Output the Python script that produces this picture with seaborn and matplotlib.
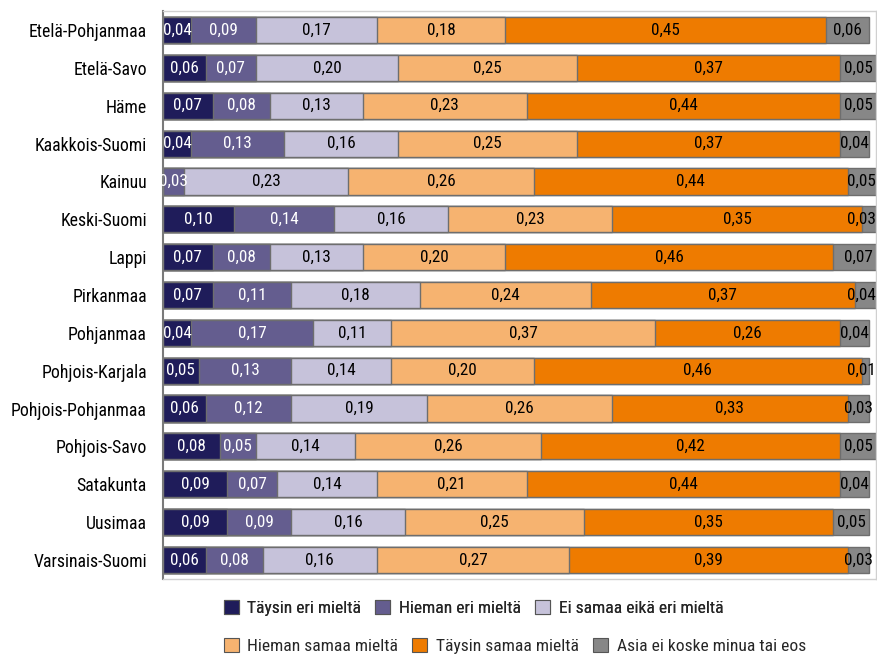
import matplotlib
matplotlib.use("Agg")
import matplotlib.pyplot as plt
from matplotlib.patches import Patch
from matplotlib import font_manager
import numpy as np
import pandas as pd
import seaborn as sns

regions = [
    "Etelä-Pohjanmaa", "Etelä-Savo", "Häme", "Kaakkois-Suomi", "Kainuu",
    "Keski-Suomi", "Lappi", "Pirkanmaa", "Pohjanmaa", "Pohjois-Karjala",
    "Pohjois-Pohjanmaa", "Pohjois-Savo", "Satakunta", "Uusimaa", "Varsinais-Suomi",
]
categories = [
    "Täysin eri mieltä", "Hieman eri mieltä", "Ei samaa eikä eri mieltä",
    "Hieman samaa mieltä", "Täysin samaa mieltä", "Asia ei koske minua tai eos",
]
taysin_eri = [0.04, 0.06, 0.07, 0.04, 0.00, 0.10, 0.07, 0.07, 0.04, 0.05, 0.06, 0.08, 0.09, 0.09, 0.06]
hieman_eri = [0.09, 0.07, 0.08, 0.13, 0.03, 0.14, 0.08, 0.11, 0.17, 0.13, 0.12, 0.05, 0.07, 0.09, 0.08]
ei_samaa = [0.17, 0.20, 0.13, 0.16, 0.23, 0.16, 0.13, 0.18, 0.11, 0.14, 0.19, 0.14, 0.14, 0.16, 0.16]
hieman_samaa = [0.18, 0.25, 0.23, 0.25, 0.26, 0.23, 0.20, 0.24, 0.37, 0.20, 0.26, 0.26, 0.21, 0.25, 0.27]
taysin_samaa = [0.45, 0.37, 0.44, 0.37, 0.44, 0.35, 0.46, 0.37, 0.26, 0.46, 0.33, 0.42, 0.44, 0.35, 0.39]
eos = [0.06, 0.05, 0.05, 0.04, 0.05, 0.03, 0.07, 0.04, 0.04, 0.01, 0.03, 0.05, 0.04, 0.05, 0.03]

series = [taysin_eri, hieman_eri, ei_samaa, hieman_samaa, taysin_samaa, eos]
colors = ["#1f1c5a", "#645d8f", "#c6c2da", "#f6b370", "#ee7b00", "#878787"]
text_colors = ["white", "white", "black", "black", "black", "black"]

sns.set_theme(style="white")

# Prefer a narrow sans face for the compact labels
fonts = font_manager.fontManager.ttflist
names = {f.name for f in fonts}
family, stretch = "DejaVu Sans", "normal"
for cand in ["Roboto Condensed", "Liberation Sans Narrow", "Open Sans Condensed", "Noto Sans Condensed"]:
    if cand in names:
        family = cand
        break
else:
    if any(f.name == "DejaVu Sans" and str(f.stretch).startswith("condensed") for f in fonts):
        stretch = "condensed"
plt.rcParams["font.family"] = [family, "DejaVu Sans"]
plt.rcParams["font.stretch"] = stretch
narrow = family != "DejaVu Sans" or stretch == "condensed"
scale = 1.0 if narrow else 0.85

df = pd.DataFrame(dict(zip(categories, series)), index=regions)
cum = df.cumsum(axis=1)

fig = plt.figure(figsize=(8.78, 6.57), dpi=100)
ax = fig.add_axes([0.1856, 0.119, 0.8122, 0.864])

# Stacked bars: draw cumulative totals from the outermost layer inwards
for i in range(len(categories) - 1, -1, -1):
    sns.barplot(
        x=cum[categories[i]].values, y=regions, orient="h", ax=ax,
        color=colors[i], width=0.69, edgecolor="#6e6e6e", linewidth=1.0,
        saturation=1, errorbar=None,
    )

# Value labels centred in each segment, kept inside the plot frame
for i, cat in enumerate(categories):
    starts = cum[cat].values - df[cat].values
    for j, (s, v) in enumerate(zip(starts, df[cat].values)):
        if v <= 0:
            continue
        xc = min(s + v / 2, 0.979)
        ax.text(xc, j, f"{v:.2f}".replace(".", ","), ha="center", va="center",
                fontsize=12.3 * scale, color=text_colors[i])

ax.set_xlim(0, 1.0)
ax.set_ylim(14.5, -0.5)
ax.set_xticks([])
ax.set_xlabel("")
ax.set_ylabel("")
ax.tick_params(axis="y", length=0, pad=11.5, labelsize=12.8 * scale, colors="black")
for side in ["top", "right", "bottom"]:
    ax.spines[side].set_visible(True)
    ax.spines[side].set_color("#d0d0d0")
    ax.spines[side].set_linewidth(1.0)
ax.spines["left"].set_color("#7a7a7a")
ax.spines["left"].set_linewidth(1.5)

handles = [Patch(facecolor=c, edgecolor="#555555", linewidth=0.8) for c in colors]
leg_kw = dict(frameon=False, ncol=3, fontsize=12.6 * scale, handlelength=0.85, handleheight=0.85,
              handletextpad=0.5, columnspacing=0.8, loc="center left")
leg1 = fig.legend(handles[:3], categories[:3], bbox_to_anchor=(0.237, 0.075), **leg_kw)
fig.add_artist(leg1)
fig.legend(handles[3:], categories[3:], bbox_to_anchor=(0.237, 0.017), **leg_kw)

fig.savefig("out.png", dpi=100)
